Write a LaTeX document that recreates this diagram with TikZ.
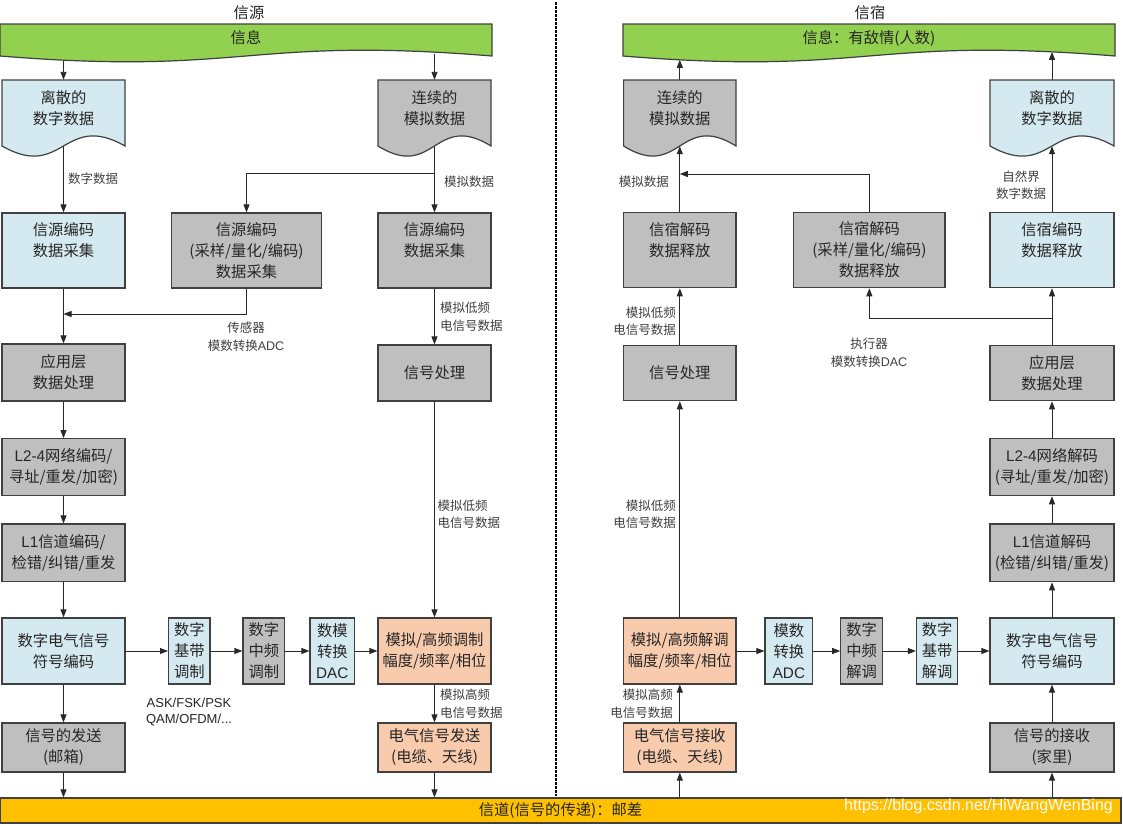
\documentclass[tikz,border=0pt]{standalone}
\usepackage{fontspec}
\setmainfont{Noto Sans CJK SC}
\newfontfamily\lat{Liberation Sans}
\usetikzlibrary{arrows.meta}
\pgfdeclarelayer{bg}
\pgfdeclarelayer{back}
\pgfsetlayers{back,bg,main}
\definecolor{cgreen}{RGB}{146,208,80}
\definecolor{cblue}{RGB}{213,234,240}
\definecolor{cgray}{RGB}{191,191,191}
\definecolor{cpeach}{RGB}{248,203,173}
\definecolor{cgold}{RGB}{255,192,0}
\definecolor{cborder}{RGB}{64,64,64}
\definecolor{cline}{RGB}{40,40,40}
\definecolor{ctext}{RGB}{38,38,38}
\definecolor{clbl}{RGB}{64,64,64}
\definecolor{cwm}{RGB}{250,250,250}
\newcommand\ffbox{\fontsize{15.3pt}{21pt}\selectfont}
\newcommand\fflbl{\fontsize{12.5pt}{17.5pt}\selectfont}
\newcommand\mybox[7]{\node[#1, minimum width={(#5-#4)*1pt}, minimum height={(#7-#6)*1pt}] (#2) at ({(#4+#5)/2},{(#6+#7)/2}) {#3};}
\newcommand\docsh[5]{\draw[shp, fill=#1] (#2,#4) -- (#3,#4) -- (#3,#5) .. controls ({(#2+#3)/2},{#5-35}) and ({(#2+#3)/2},{#5+35}) .. (#2,#5) -- cycle;}
\begin{document}
\begin{tikzpicture}[x=1pt, y=-1pt,
  box/.style={draw=cborder, line width=1.2pt, inner sep=0pt, align=center, font=\ffbox, text=ctext},
  bluebox/.style={box, fill=cblue},
  graybox/.style={box, fill=cgray},
  peachbox/.style={box, fill=cpeach},
  shp/.style={draw=cborder, line width=1.2pt},
  ghost/.style={inner sep=0pt},
  txt/.style={font=\ffbox, text=ctext, align=center, inner sep=0pt},
  lbl/.style={font=\fflbl, text=clbl, inner sep=0pt},
  arr/.style={draw=cline, line width=0.9pt, -{Triangle[length=8pt,width=6pt]}}]
\useasboundingbox (0,0) rectangle (1123,825);
\begin{pgfonlayer}{back}
\fill[white] (0,0) rectangle (1123,825);
\end{pgfonlayer}

% titles
\node[txt] (tsrc) at (249,13) {信源};
\node[txt] (tsnk) at (870,13) {信宿};

% banners
\draw[shp, fill=cgreen] (0,24) -- (492,24) -- (492,56) .. controls (246,36) and (246,76) .. (0,56) -- cycle;
\node[txt, minimum width=492pt, minimum height=32pt] (lbn) at (246,38) {信息};
\draw[shp, fill=cgreen] (623,24) -- (1115,24) -- (1115,56) .. controls (869,36) and (869,76) .. (623,56) -- cycle;
\node[txt, minimum width=492pt, minimum height=32pt] (rbn) at (869,38) {信息：有敌情(人数)};

% separator
\draw[line width=1.8pt, dash pattern=on 2.5pt off 1.5pt] (556,2) -- (556,796);

% document shapes
\docsh{cblue}{2}{125}{80}{146}
\node[ghost, minimum width=123pt, minimum height=66pt] (ldoc) at (63.5,113) {};
\node[txt] (ldoct) at (63.5,108.5) {离散的\\数字数据};
\docsh{cgray}{378}{491}{80}{146}
\node[ghost, minimum width=113pt, minimum height=66pt] (rdoc) at (434.5,113) {};
\node[txt] (rdoct) at (434.5,108.5) {连续的\\模拟数据};
\docsh{cgray}{623.6}{736}{80}{146}
\node[ghost, minimum width=112pt, minimum height=66pt] (sdoc1) at (679.8,113) {};
\node[txt] (sdoc1t) at (679.8,108.5) {连续的\\模拟数据};
\docsh{cblue}{990}{1114}{80}{146}
\node[ghost, minimum width=124pt, minimum height=66pt] (sdoc2) at (1052,113) {};
\node[txt] (sdoc2t) at (1052,108.5) {离散的\\数字数据};

% left half boxes
\mybox{bluebox}{lsrc}{信源编码\\数据采集\\\mbox{}}{2}{125}{213}{288}
\mybox{graybox}{msrc}{信源编码\\(采样/量化/编码)\\数据采集}{171.5}{321.5}{213}{288}
\mybox{graybox}{rsrc}{信源编码\\数据采集\\\mbox{}}{378}{491}{213}{288}
\mybox{graybox}{lapp}{应用层\\数据处理}{2}{125}{344}{401}
\mybox{graybox}{rsig}{信号处理}{378}{491}{345}{401}
\mybox{graybox}{l24}{{\lat L2-4}网络编码/\\寻址/重发/加密)}{2}{125}{438.7}{495.7}
\mybox{graybox}{l1}{{\lat L1}信道编码/\\检错/纠错/重发}{2}{125}{524}{581.7}
\mybox{bluebox}{ldig}{数字电气信号\\符号编码}{2}{125}{618}{684}
\mybox{bluebox}{bb}{数字\\基带\\调制}{168.6}{210}{618}{684}
\mybox{graybox}{ifm}{数字\\中频\\调制}{243}{284.6}{618}{684}
\mybox{bluebox}{dac}{数模\\转换\\{\lat DAC}}{310}{354.6}{618}{684}
\mybox{peachbox}{rmod}{模拟/高频调制\\幅度/频率/相位}{378}{491}{618}{684}
\mybox{graybox}{lsend}{信号的发送\\(邮箱)}{2}{125}{723}{772}
\mybox{peachbox}{rsend}{电气信号发送\\(电缆、天线)}{378}{491}{723}{772}

% right half boxes
\mybox{graybox}{sdec}{信宿解码\\数据释放\\\mbox{}}{623.6}{736}{212.3}{287.7}
\mybox{graybox}{smid}{信宿解码\\(采样/量化/编码)\\数据释放}{793.7}{945}{212.3}{287.7}
\mybox{bluebox}{senc}{信宿编码\\数据释放\\\mbox{}}{990}{1114}{212.3}{287.7}
\mybox{graybox}{ssig}{信号处理}{623.6}{736}{345.7}{400.7}
\mybox{graybox}{sapp}{应用层\\数据处理}{990}{1114}{345.7}{400.7}
\mybox{graybox}{s24}{{\lat L2-4}网络解码\\(寻址/重发/加密)}{990}{1114}{438.7}{495.7}
\mybox{graybox}{s1}{{\lat L1}信道解码\\(检错/纠错/重发)}{990}{1114}{524}{581.7}
\mybox{peachbox}{sdem}{模拟/高频解调\\幅度/频率/相位}{623.6}{736}{618}{684}
\mybox{bluebox}{adc}{模数\\转换\\{\lat ADC}}{765}{812.8}{618}{684}
\mybox{graybox}{ifd}{数字\\中频\\解调}{840.8}{882.4}{618}{684}
\mybox{bluebox}{bbd}{数字\\基带\\解调}{916.5}{957.8}{618}{684}
\mybox{bluebox}{sdig}{数字电气信号\\符号编码}{990}{1114}{618}{684}
\mybox{peachbox}{srecv}{电气信号接收\\(电缆、天线)}{623.6}{736}{723}{772}
\mybox{graybox}{shome}{信号的接收\\(家里)}{990}{1114}{723}{772}

% channel bar
\node[box, fill=cgold, minimum width=1121pt, minimum height=25pt] (bar) at (560.5,810.5) {信道(信号的传递)：邮差};
\node[inner sep=0pt, anchor=east, text=cwm, font={\lat\fontsize{16pt}{18pt}\selectfont}] (wm) at (1113,806) {https://blog.csdn.net/HiWangWenBing};

% labels
\node[lbl, anchor=west] (lab1) at (68,179) {数字数据};
\node[lbl, anchor=west] (lab2) at (444,182) {模拟数据};
\node[lbl, align=center] (lab3) at (246,336.5) {传感器\\模数转换{\lat ADC}};
\node[lbl, anchor=west, align=left] (lab4) at (440,317) {模拟低频\\电信号数据};
\node[lbl, anchor=west, align=left] (lab5) at (437.5,514.5) {模拟低频\\电信号数据};
\node[lbl, anchor=west, align=left] (lab6) at (440,703.5) {模拟高频\\电信号数据};
\node[inner sep=0pt, align=center, text=ctext, font={\lat\fontsize{13pt}{16pt}\selectfont}] (lab7) at (189,712) {ASK/FSK/PSK\\QAM/OFDM/...};
\node[lbl, anchor=east] (lab8) at (669,182) {模拟数据};
\node[lbl, align=center] (lab9) at (1021,185) {自然界\\数字数据};
\node[lbl, align=center] (lab10) at (869,353) {执行器\\模数转换{\lat DAC}};
\node[lbl, anchor=east, align=right] (lab11) at (676,321.5) {模拟低频\\电信号数据};
\node[lbl, anchor=east, align=right] (lab12) at (676,514.5) {模拟低频\\电信号数据};
\node[lbl, anchor=east, align=right] (lab13) at (673,703.5) {模拟高频\\电信号数据};

% connectors
\begin{pgfonlayer}{bg}
\draw[arr] (ldoc.north |- lbn.south) -- (ldoc.north);
\draw[arr] (rdoc.north |- lbn.south) -- (rdoc.north);
\draw[arr] (ldoc.south) -- (lsrc.north);
\draw[arr] (rdoc.south) -- (rsrc.north);
\coordinate (br1) at (434.5,173);
\draw[arr] (br1) -| (msrc.north);
\draw[arr] (lsrc.south) -- (lapp.north);
\coordinate (br2) at (63.5,314);
\draw[arr] (msrc.south) |- (br2);
\draw[arr] (lapp.south) -- (l24.north);
\draw[arr] (l24.south) -- (l1.north);
\draw[arr] (l1.south) -- (ldig.north);
\draw[arr] (ldig.south) -- (lsend.north);
\draw[arr] (lsend.south) -- (lsend.south |- bar.north);
\draw[arr] (rsrc.south) -- (rsig.north);
\draw[arr] (rsig.south) -- (rmod.north);
\draw[arr] (rmod.south) -- (rsend.north);
\draw[arr] (rsend.south) -- (rsend.south |- bar.north);
\draw[arr] (ldig.east) -- (bb.west);
\draw[arr] (bb.east) -- (ifm.west);
\draw[arr] (ifm.east) -- (dac.west);
\draw[arr] (dac.east) -- (rmod.west);
\coordinate (rw1) at (679.8,59.8);
\coordinate (rw2) at (1052,51.9);
\draw[arr] (sdoc1.north) -- (rw1);
\draw[arr] (sdoc2.north) -- (rw2);
\draw[arr] (sdec.north) -- (sdoc1.south);
\coordinate (br3) at (679.8,174);
\draw[arr] (smid.north) |- (br3);
\draw[arr] (senc.north) -- (sdoc2.south);
\draw[arr] (sapp.north) -- (senc.south);
\coordinate (br4) at (1052,318);
\draw[arr] (br4) -| (smid.south);
\draw[arr] (ssig.north) -- (sdec.south);
\draw[arr] (sdem.north) -- (ssig.south);
\draw[arr] (srecv.north) -- (sdem.south);
\draw[arr] (srecv.south |- bar.north) -- (srecv.south);
\draw[arr] (shome.south |- bar.north) -- (shome.south);
\draw[arr] (shome.north) -- (sdig.south);
\draw[arr] (sdig.north) -- (s1.south);
\draw[arr] (s1.north) -- (s24.south);
\draw[arr] (s24.north) -- (sapp.south);
\draw[arr] (sdem.east) -- (adc.west);
\draw[arr] (adc.east) -- (ifd.west);
\draw[arr] (ifd.east) -- (bbd.west);
\draw[arr] (bbd.east) -- (sdig.west);
\end{pgfonlayer}
\end{tikzpicture}
\end{document}
